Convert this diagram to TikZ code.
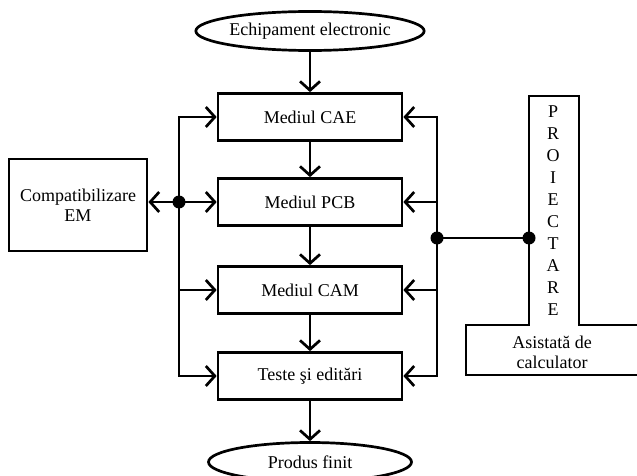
\documentclass[tikz,border=0pt]{standalone}
\usepackage{fontspec}
\setmainfont{Liberation Serif}
\usetikzlibrary{arrows.meta,shapes.geometric}

\begin{document}
\begin{tikzpicture}[x=1pt,y=-1pt,
  line width=2.7pt, line join=miter,
  every node/.style={font=\fontsize{18}{20}\selectfont},
  stage/.style={draw, rectangle, minimum width=184pt, minimum height=47pt, inner sep=0pt},
  term/.style={draw, ellipse, minimum width=203pt, minimum height=39pt, inner sep=0pt},
  arr/.style={-{Straight Barb[length=9pt,width=20pt]}},
  junction/.style={circle, fill, inner sep=0pt, minimum size=13pt}]
\useasboundingbox (0,0) rectangle (637,476);
\clip (0,0) rectangle (637,476);

% main flow
\node[term]  (in)   at (310,31)  {Echipament electronic};
\node[stage] (cae)  at (310,117) {Mediul CAE};
\node[stage] (pcb)  at (310,202) {Mediul PCB};
\node[stage] (cam)  at (310,290) {Mediul CAM};
\node[stage] (test) at (310,376) {Teste şi editări};
\node[term]  (out)  at (310,462) {Produs finit};

\draw[arr] (in.south)   -- (cae.north);
\draw[arr] (cae.south)  -- (pcb.north);
\draw[arr] (pcb.south)  -- (cam.north);
\draw[arr] (cam.south)  -- (test.north);
\draw[arr] (test.south) -- (out.north);

% EMC block on the left
\node[draw, minimum width=138pt, minimum height=92pt, inner sep=0pt, align=center]
  (emc) at (78,205) {Compatibilizare\\EM};

% left bus
\coordinate (lb) at (179,0);
\draw[arr] (lb |- test.west) -- (lb |- cae.west) -- (cae.west);
\draw[arr] (lb |- cae.west) -- (lb |- test.west) -- (test.west);
\draw[arr] (lb |- cam.west) -- (cam.west);
\node[junction] (lj) at (lb |- pcb.west) {};
\draw[arr] (lj.center) -- (pcb.west);
\draw[arr] (lj.center) -- (lj.center -| emc.east);

% right bus
\coordinate (rb) at (437,0);
\draw[arr] (rb |- test.east) -- (rb |- cae.east) -- (cae.east);
\draw[arr] (rb |- cae.east) -- (rb |- test.east) -- (test.east);
\draw[arr] (rb |- pcb.east) -- (pcb.east);
\draw[arr] (rb |- cam.east) -- (cam.east);
\node[junction] (rj) at (437,238) {};

% T-shaped CAD block
\draw (650,325) -- (579,325) -- (579,96) -- (529,96) -- (529,325)
      -- (466,325) -- (466,375) -- (650,375);
\node[junction] (sj) at (529,238) {};
\draw (rj.center) -- (sj.center);

\foreach \l [count=\i from 0] in {P,R,O,I,E,C,T,A,R,E}
  \node (letter\i) at (553,{112+22*\i}) {\l};
\node[align=center] (cad) at (552,352) {Asistată de\\calculator};
\end{tikzpicture}
\end{document}
